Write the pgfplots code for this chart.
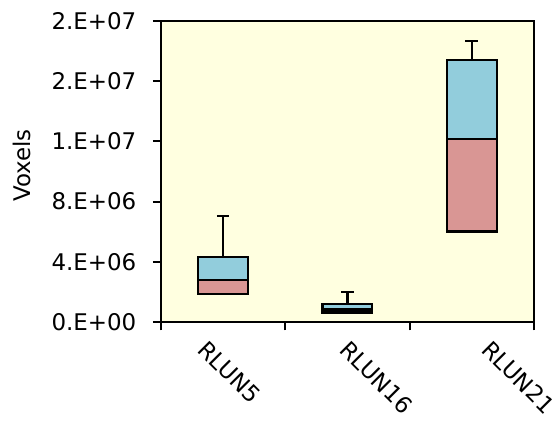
\documentclass[border=0pt]{standalone}
\usepackage{pgfplots}
\pgfplotsset{compat=1.18}
\usepackage{fontspec}
\setmainfont{DejaVu Sans}
\definecolor{boxblue}{HTML}{92CDDC}
\definecolor{boxred}{HTML}{D99694}
\definecolor{plotbg}{HTML}{FFFFE0}

% quartiles: q1, median, q3, whisker ends
\pgfplotstableread{
x  base     lowpart  highpart  q3       upw      q1       loww
0  1.88e6   0.92e6   1.53e6    4.33e6   2.70e6   1.88e6   0.03e6
1  0.64e6   0.20e6   0.39e6    1.23e6   0.76e6   0.64e6   0.02e6
2  6.01e6   6.12e6   5.24e6    17.37e6  1.28e6   6.01e6   0.03e6
}\boxdata

\begin{document}
\begin{tikzpicture}
\pgfplotsset{
  common/.style={
    at={(0,0)}, anchor=south west,
    scale only axis, width=279.75pt, height=226.2pt,
    xmin=-0.5, xmax=2.5, ymin=0, ymax=2e7,
  },
  whisker/.style={draw=none, mark=none,
    error bars/.cd, y dir=#1, y explicit,
    error bar style={line width=1.7pt, black},
    error mark options={rotate=90, black, line width=1.7pt, mark size=4.75pt}},
}
\begin{axis}[
  common,
  font=\fontsize{17.2}{20}\selectfont,
  axis background/.style={fill=plotbg},
  axis line style={line width=1.6pt, black},
  ybar stacked, bar width=0.4,
  xtick={-0.5,0.5,1.5,2.5},
  x tick label as interval,
  xticklabels={RLUN5,RLUN16,RLUN21},
  xticklabel style={xshift={-11pt+13.3pt*\ticknum}, yshift=-6.5pt,
    rotate=-45, anchor=north west, inner sep=0pt},
  ytick={0,4e6,8e6,1.2e7,1.6e7,2e7},
  yticklabels={0.E+00,4.E+06,8.E+06,1.E+07,2.E+07,2.E+07},
  yticklabel style={xshift=-9pt},
  scaled y ticks=false,
  xtick pos=bottom, ytick pos=left,
  tick align=outside, major tick length=6pt,
  tick style={line width=1.5pt, black},
  ylabel={Voxels},
  ylabel style={at={(axis description cs:-0.372,0.52)}, anchor=center},
]
\addplot[draw=none, fill=none] table[x=x, y=base] {\boxdata};
\addplot[draw=black, line width=1.7pt, fill=boxred] table[x=x, y=lowpart] {\boxdata};
\addplot[draw=black, line width=1.7pt, fill=boxblue] table[x=x, y=highpart] {\boxdata};
\end{axis}
\begin{axis}[common, hide axis]
\addplot[whisker=plus] table[x=x, y=q3, y error=upw] {\boxdata};
\addplot[whisker=minus] table[x=x, y=q1, y error=loww] {\boxdata};
\end{axis}
\pgfresetboundingbox
\useasboundingbox (-120.75pt,-75.5pt) rectangle (297.75pt,241.7pt);
\end{tikzpicture}
\end{document}
